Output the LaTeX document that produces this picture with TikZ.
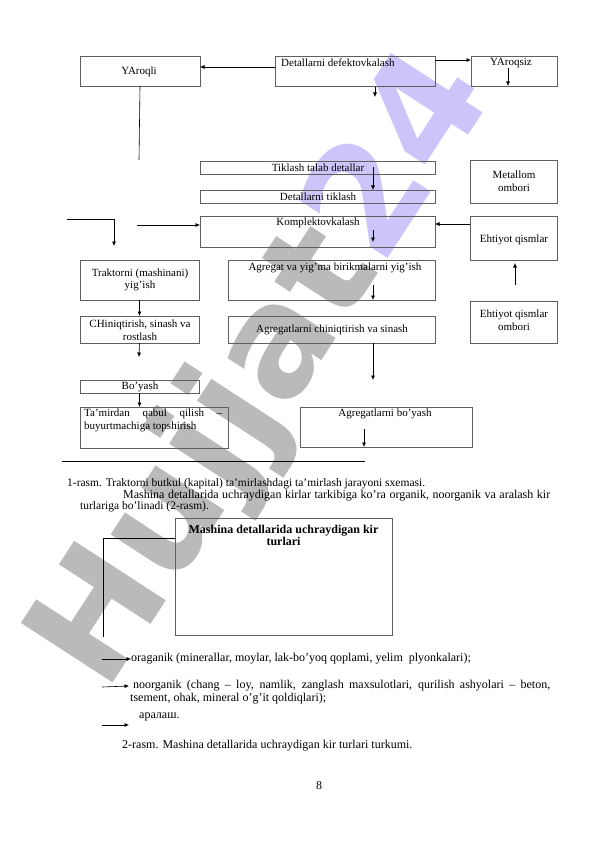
\documentclass[tikz,border=0pt]{standalone}
\usepackage{fontspec}
\setmainfont{Liberation Serif}
\newfontfamily\wmfont{DejaVu Sans}
\usetikzlibrary{arrows.meta}
\definecolor{lav}{RGB}{204,197,250}
\definecolor{wmgray}{RGB}{186,186,186}
\definecolor{boxline}{RGB}{95,95,95}
\begin{document}
\begin{tikzpicture}[x=1pt,y=-1pt,
  box/.style={draw=boxline, line width=0.6pt, inner sep=0pt, outer sep=0pt},
  lbl/.style={inner sep=0pt, font=\fontsize{11}{12.5}\selectfont, align=center},
  lblw/.style={inner sep=0pt, font=\fontsize{11}{12.5}\selectfont, anchor=west},
  arr/.style={-{Latex[length=4.5pt,width=4pt]}, line width=0.6pt},
  ln/.style={line width=0.6pt},
  body/.style={inner sep=0pt, anchor=west, font=\fontsize{12}{13}\selectfont, text height=8pt, text depth=2.5pt},
  bodys/.style={body, font=\fontsize{11.5}{12}\selectfont},
  wm/.style={inner sep=0pt, rotate=57, font=\wmfont\bfseries\fontsize{150}{150}\selectfont}]
\useasboundingbox (0,0) rectangle (596,842);
% watermark
\node[wm] (wmark) at (266,372) {\textcolor{wmgray}{Hujjat}\textcolor{lav}{24}};
% boxes
\node[box, minimum width=120pt, minimum height=30pt] (b1) at (140,71) {};
\node[box, minimum width=160pt, minimum height=30pt] (b2) at (355,71) {};
\node[box, minimum width=86pt, minimum height=30pt] (b3) at (514,71) {};
\node[box, minimum width=235pt, minimum height=13pt] (b4) at (317.5,167.5) {};
\node[box, minimum width=235pt, minimum height=13pt] (b5) at (317.5,196.5) {};
\node[box, minimum width=235pt, minimum height=31pt] (b6) at (317.5,231.5) {};
\node[box, minimum width=87pt, minimum height=43pt] (b7) at (513.5,181.5) {};
\node[box, minimum width=87pt, minimum height=44pt] (b8) at (513.5,238) {};
\node[box, minimum width=119pt, minimum height=40pt] (b9) at (139.5,280) {};
\node[box, minimum width=207pt, minimum height=40pt] (b10) at (331.5,280) {};
\node[box, minimum width=87pt, minimum height=42pt] (b11) at (513.5,322) {};
\node[box, minimum width=119pt, minimum height=27pt] (b12) at (139.5,329.5) {};
\node[box, minimum width=207pt, minimum height=27pt] (b13) at (331.5,329.5) {};
\node[box, minimum width=119pt, minimum height=13pt] (b14) at (139.5,386.5) {};
\node[box, minimum width=148pt, minimum height=41pt] (b15) at (154,427.5) {};
\node[box, minimum width=172pt, minimum height=40pt] (b16) at (386,427) {};
\node[box, minimum width=217pt, minimum height=117pt] (b17) at (283.5,576.5) {};
% box texts
\node[lbl] (t1) at (139,72) {YAroqli};
\node[lblw] (t2) at (281,63) {Detallarni defektovkalash};
\node[lbl] (t3) at (511,63) {YAroqsiz};
\node[lbl] (t4) at (318,167.5) {Tiklash talab detallar};
\node[lbl] (t5) at (318,196.5) {Detallarni tiklash};
\node[lbl] (t6) at (318,223) {Komplektovkalash};
\node[lbl] (t7) at (514,181) {Metallom\\ombori};
\node[lbl] (t8) at (514,240) {Ehtiyot qismlar};
\node[lbl] (t9) at (140,280) {Traktorni (mashinani)\\yig’ish};
\node[lbl] (t10) at (335,268) {Agregat va yig’ma birikmalarni yig’ish};
\node[lbl] (t11) at (514,320) {Ehtiyot qismlar\\ombori};
\node[lbl] (t12) at (140,330) {CHiniqtirish, sinash va\\rostlash};
\node[lbl] (t13) at (332,330) {Agregatlarni chiniqtirish va sinash};
\node[lbl] (t14) at (140,386.5) {Bo’yash};
\node[lblw] (t15a) at (84,414) {\makebox[138pt][s]{Ta’mirdan qabul qilish –}};
\node[lblw] (t15b) at (84,427) {buyurtmachiga topshirish};
\node[lbl] (t16) at (385,414) {Agregatlarni bo’yash};
% connector points
\coordinate (c1) at (139,160);
\coordinate (c2a) at (67,219);
\coordinate (c2b) at (114,219);
\coordinate (c2c) at (114,246);
\coordinate (c3) at (137,225);
\coordinate (d1) at (375,87);
\coordinate (d2) at (375,97);
\coordinate (e1) at (508,68);
\coordinate (e2) at (373,167);
\coordinate (e3) at (373,230);
\coordinate (e4) at (373,242);
\coordinate (e5) at (515,285);
\coordinate (e6) at (515,263);
\coordinate (e7) at (373,285);
\coordinate (e8) at (139,357);
\coordinate (e9) at (364,429);
\coordinate (h1) at (62,461);
\coordinate (h2) at (365,461);
% connectors
\draw[arr] (b2.west |- 0,67) -- (b1.east |- 0,67);
\draw[arr] (b2.east |- 0,60) -- (b3.west |- 0,60);
\draw[arr] (e1) -- (e1 |- b3.south);
\draw[arr] (d1) -- (d2);
\draw[ln] (b1.south) -- (c1);
\draw[arr] (e2) -- (e2 |- b5.north);
\draw[ln] (c2a) -- (c2b);
\draw[arr] (c2b) -- (c2c);
\draw[arr] (c3) -- (b6.west |- c3);
\draw[arr] (e3) -- (e4);
\draw[arr] (b8.west |- 0,224) -- (b6.east |- 0,224);
\draw[arr] (e5) -- (e6);
\draw[arr] (e7) -- (e7 |- b10.south);
\draw[arr] (b9.south) -- (b12.north);
\draw[arr] (b12.south) -- (e8);
\draw[arr] (b13.south -| e7) -- (e7 |- 0,380);
\draw[arr] (b14.south) -- (b14.south |- b15.north);
\draw[arr] (e9) -- (e9 |- b16.south);
\draw[ln] (h1) -- (h2);
% body text
\node[bodys] (p1) at (67,484) {1-rasm. Traktorni butkul (kapital) ta’mirlashdagi ta’mirlash jarayoni sxemasi.};
\node[body] (p2) at (123,496) {\makebox[427pt][s]{Mashina detallarida uchraydigan kirlar tarkibiga ko’ra organik, noorganik va aralash kir}};
\node[bodys] (p3) at (80,507) {turlariga bo’linadi (2-rasm).};
\node[inner sep=0pt, font=\fontsize{12}{12}\selectfont\bfseries, align=center] (t17) at (283.5,535) {Mashina detallarida uchraydigan kir\\turlari};
\coordinate (k1) at (103,538);
\coordinate (k2) at (103,637);
\draw[ln] (b17.west |- k1) -- (k1) -- (k2);
\coordinate (a1) at (102,659);
\coordinate (a2) at (102,687);
\coordinate (a3) at (102,725);
\node[body] (l1) at (131,659) {oraganik (minerallar, moylar, lak-bo’yoq qoplami, yelim\ \ plyonkalari);};
\node[body] (l2) at (133,686) {\makebox[417pt][s]{noorganik (chang – loy, namlik, zanglash maxsulotlari, qurilish ashyolari – beton,}};
\node[body] (l2b) at (130,699) {tsement, ohak, mineral o’g’it qoldiqlari);};
\node[body] (l3) at (139,716) {аралаш.};
\draw[arr] (a1) -- (l1.west);
\draw[arr] (a2) -- ([xshift=-4pt]l2.west);
\draw[arr] (a3) -- (129,725);
\node[body] (cap2) at (122,746) {2-rasm. Mashina detallarida uchraydigan kir turlari turkumi.};
\node[body, anchor=center] (pg) at (319,787) {8};
\end{tikzpicture}
\end{document}
